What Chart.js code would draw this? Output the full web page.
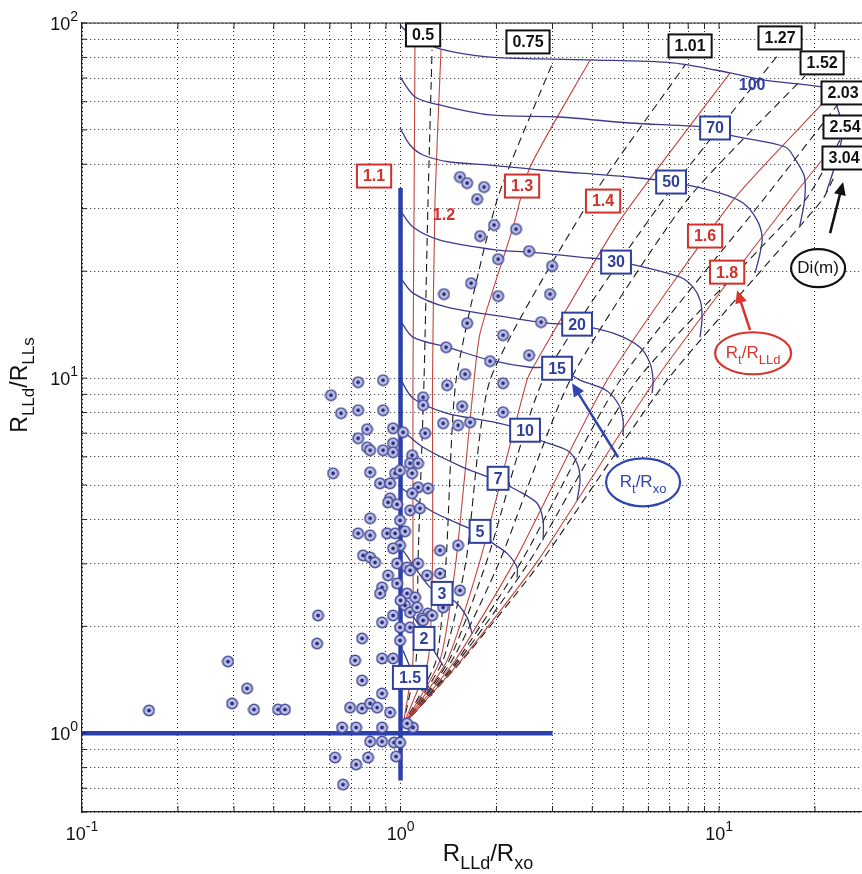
<!DOCTYPE html>
<html>
<head>
<meta charset="utf-8">
<script src="https://cdn.jsdelivr.net/npm/chart.js@4.4.0/dist/chart.umd.min.js"></script>
<style>
  html, body { margin: 0; padding: 0; background: #fff; overflow: hidden; }
  #wrap { width: 862px; height: 874px; }
</style>
</head>
<body>
<div id="wrap"><canvas id="tornado" width="862" height="874"></canvas></div>
<script>
// log-log tornado chart, RLLd/Rxo vs RLLd/RLLs

const xTicks = [0.1, 0.2, 0.3, 0.4, 0.5, 0.6, 0.7, 0.8, 0.9, 1, 2, 3, 4, 5, 6, 7, 8, 9, 10, 20]
const yTicks = [0.6, 0.7, 0.8, 0.9, 1, 2, 3, 4, 5, 6, 7, 8, 9, 10, 20, 30, 40, 50, 60, 70, 80, 90, 100]
const xDecades = [0.1, 1, 10]
const yDecades = [1, 10, 100]

// measured samples [RLLd/Rxo, RLLd/RLLs]
const samples = [
  [1.537, 36.83], [1.618, 35.43], [1.829, 34.52], [1.739, 31.93], [1.966, 26.98], [2.305, 26.29],
  [1.777, 25.12], [2.532, 22.79], [2.024, 21.63], [2.99, 20.68], [1.665, 18.51], [1.369, 17.24],
  [2.024, 17.02], [2.947, 17.24], [1.618, 14.28], [2.098, 13.21], [2.761, 14.38], [1.39, 12.22],
  [1.91, 11.16], [2.532, 11.6], [1.594, 10.26], [2.098, 9.674], [1.4, 9.55], [1.177, 8.834],
  [1.177, 8.387], [1.56, 8.333], [1.36, 7.46], [1.515, 7.364], [1.653, 7.509], [2.098, 8.015],
  [1.194, 6.994],
  [0.8813, 9.865], [0.7357, 9.736], [0.6049, 8.949], [0.6503, 7.963], [0.7357, 8.119], [0.8813, 8.119],
  [0.7849, 7.178], [0.9473, 7.222], [0.7357, 6.771], [0.7849, 6.387], [0.8023, 6.264], [0.8813, 6.264],
  [0.9473, 6.555], [0.9473, 6.183], [1.087, 6.064], [1.018, 7.039],
  [1.071, 5.756], [1.135, 5.756], [1.087, 5.395], [0.6138, 5.395], [0.8023, 5.43], [0.961, 5.395],
  [0.8624, 5.055], [0.9269, 5.055], [1.135, 4.926], [1.22, 4.894], [0.9269, 4.587], [0.9137, 4.469],
  [0.975, 4.411], [1.087, 4.738], [1.071, 4.243], [1.151, 4.298], [0.8023, 4.029], [0.7357, 3.655],
  [0.8023, 3.607], [0.907, 3.655], [0.961, 3.655], [1.033, 3.702], [1.33, 3.273], [1.515, 3.381],
  [0.7627, 3.168], [0.8023, 3.127], [0.8318, 3.027], [0.975, 3.008], [1.048, 2.931], [1.135, 3.008],
  [1.071, 2.874], [1.211, 2.782], [1.33, 2.818], [0.9137, 2.782], [0.8749, 2.574], [0.8624, 2.476],
  [0.975, 2.642], [1.048, 2.476], [1.111, 2.413], [1.033, 2.291], [1.071, 2.189], [0.9473, 2.146],
  [1.22, 2.175], [1.168, 2.105], [1.127, 2.261], [1.256, 2.146], [1.36, 2.261], [1.537, 2.524],
  [0.5508, 2.146], [0.8749, 2.051], [0.9964, 1.986], [1.071, 1.986], [1.177, 2.078], [1.168, 1.789],
  [0.5468, 1.789], [0.7571, 1.849], [0.9964, 1.825], [0.7198, 1.603], [0.8749, 1.624], [0.9473, 1.624],
  [0.7571, 1.408], [0.8749, 1.294], [0.6942, 1.181], [0.7571, 1.174], [0.8023, 1.213], [0.844, 1.181],
  [0.9269, 1.144], [0.655, 1.038], [0.7251, 1.038], [0.8749, 1.038], [1.094, 1.038], [1.048, 1.065],
  [0.8023, 0.9475], [0.8749, 0.9475], [0.9541, 0.9414], [0.9964, 0.9414], [0.9681, 0.8597],
  [0.6227, 0.8541], [0.7251, 0.8162], [0.7907, 0.8541], [0.6598, 0.7167],
  [0.9964, 5.5], [0.9964, 3.976], [0.9964, 3.381], [1.0, 2.366], [0.9473, 3.316],
  [0.1623, 1.159], [0.2873, 1.592], [0.3297, 1.337], [0.2958, 1.213], [0.3467, 1.166],
  [0.4125, 1.166], [0.4338, 1.166]
]

// invasion diameter Di (m), dashed
const diValues = ['0.5', '0.75', '1.01', '1.27', '1.52', '2.03', '2.54', '3.04']
const diCurves = [
  [[1.018, 1.051], [1.119, 1.603], [1.135, 3.067], [1.185, 9.865], [1.22, 31.72], [1.256, 84.0]],
  [[1.018, 1.051], [1.293, 1.603], [1.39, 3.067], [1.494, 9.865], [2.009, 31.72], [3.011, 77.7]],
  [[1.018, 1.051], [1.36, 1.603], [1.606, 3.067], [1.91, 9.865], [3.936, 31.72], [7.823, 76.21]],
  [[1.018, 1.051], [1.42, 1.603], [1.869, 3.067], [2.802, 9.865], [6.671, 31.72], [15.32, 81.3]],
  [[1.018, 1.051], [1.451, 1.603], [2.053, 3.067], [3.406, 9.865], [7.934, 31.72], [18.62, 70.95]],
  [[1.018, 1.051], [1.505, 1.603], [2.407, 3.067], [4.889, 9.865], [13.74, 31.72], [23.64, 59.15]],
  [[1.018, 1.051], [1.527, 1.603], [2.55, 3.067], [5.528, 9.865], [18.62, 31.72], [23.99, 46.83]],
  [[1.018, 1.051], [1.56, 1.603], [2.782, 3.067], [6.866, 9.865], [21.06, 31.72], [23.13, 37.32]]
]
const diLabelAt = [[1.177, 92.57], [2.513, 88.45], [8.11, 86.18], [15.54, 90.78], [21.06, 77.21], [24.51, 63.53], [24.86, 50.95], [24.68, 41.67]]

// Rt/RLLd, red
const rlldValues = ['1.1', '1.2', '1.3', '1.4', '1.6', '1.8']
const rlldCurves = [
  [[1.018, 1.051], [1.094, 1.603], [1.094, 3.067], [1.094, 9.865], [1.103, 31.72], [1.111, 100]],
  [[1.018, 1.051], [1.22, 1.603], [1.26, 3.067], [1.26, 9.865], [1.283, 31.72], [1.34, 84.0]],
  [[1.018, 1.051], [1.33, 1.603], [1.494, 3.067], [1.677, 8.664], [1.777, 13.38], [2.256, 26.63], [2.55, 39.29], [3.936, 78.7]],
  [[1.018, 1.051], [1.4, 1.603], [1.777, 3.067], [2.495, 9.865], [2.683, 11.23], [4.889, 27.86], [10.83, 72.35]],
  [[1.018, 1.051], [1.483, 1.603], [2.288, 3.067], [4.451, 9.865], [11.07, 31.72], [21.21, 59.54]],
  [[1.018, 1.051], [1.549, 1.603], [2.703, 3.067], [6.297, 9.865], [16.71, 31.72], [22.31, 43.89]]
]
const rlldLabelAt = [[0.8257, 37.07], [1.369, 28.78], [2.407, 34.74], [4.323, 31.52], [9.037, 25.12], [10.6, 19.88]]

// Rt/Rxo, blue
const rxoValues = ['1.5', '2', '3', '5', '7', '10', '15', '20', '30', '50', '70', '100']
const rxoCurves = [
  [[1.018, 1.711], [1.087, 1.502], [1.194, 1.363], [1.256, 1.277]],
  [[1.018, 2.366], [1.111, 2.093], [1.185, 1.923], [1.283, 1.689], [1.36, 1.551]],
  [[1.018, 3.273], [1.238, 2.574], [1.36, 2.475], [1.505, 2.32], [1.618, 2.119], [1.677, 1.91]],
  [[1.011, 4.894], [1.238, 4.244], [1.618, 3.8], [1.764, 3.679], [1.952, 3.425], [2.16, 3.21], [2.322, 2.931], [2.322, 2.747]],
  [[1.011, 7.133], [1.177, 6.386], [1.571, 5.609], [2.009, 5.155], [2.322, 4.832], [2.683, 4.441], [2.802, 3.976], [2.802, 3.492]],
  [[0.996, 9.994], [1.094, 8.778], [1.4, 7.96], [1.91, 7.558], [2.442, 7.133], [2.742, 6.683], [3.333, 6.262], [3.583, 5.755], [3.66, 5.155], [3.583, 4.528]],
  [[0.996, 14.56], [1.094, 13.04], [1.4, 12.22], [1.91, 11.23], [2.55, 10.73], [3.156, 10.66], [3.66, 9.865], [4.418, 9.245], [4.853, 8.387], [4.996, 7.607], [4.996, 6.903]],
  [[0.996, 19.25], [1.094, 17.35], [1.4, 15.84], [2.256, 14.75], [2.884, 14.28], [3.583, 14.1], [4.647, 13.38], [5.645, 12.22], [6.068, 11.02], [6.207, 9.865], [6.163, 9.068]],
  [[0.996, 29.73], [1.094, 26.63], [1.33, 24.47], [2.009, 22.94], [2.55, 22.64], [3.66, 21.92], [4.749, 21.36], [7.544, 19.25], [8.287, 18.04], [8.716, 16.58], [8.845, 14.85], [8.716, 13.04]],
  [[0.996, 50.61], [1.071, 45.33], [1.177, 42.49], [1.43, 40.6], [1.91, 39.81], [2.742, 38.55], [5.216, 36.83], [7.145, 35.66], [10.07, 33.2], [11.9, 31.12], [13.16, 27.86], [13.65, 24.95], [13.45, 22.49], [12.97, 19.75]],
  [[0.996, 70.47], [1.111, 61.91], [1.33, 58.77], [1.91, 55.08], [3.156, 54.37], [5.216, 52.29], [9.714, 50.62], [10.83, 48.36], [16.14, 44.75], [17.39, 41.14], [18.55, 36.83], [18.55, 31.72], [17.89, 26.63]],
  [[0.996, 98.77], [1.056, 93.78], [1.111, 90.78], [1.33, 84.53], [1.869, 80.26], [2.742, 79.23], [3.851, 78.7], [7.145, 77.21], [10.83, 72.35], [13.74, 69.13], [20.98, 66.06], [22.56, 63.94], [23.64, 56.9], [24.51, 49.95], [23.13, 39.82], [21.68, 33.2]]
]
const rxoLabelAt = [[1.071, 1.436], [1.185, 1.849], [1.35, 2.476], [1.777, 3.702], [2.024, 5.222], [2.46, 7.133], [3.1, 10.66], [3.583, 14.19], [4.749, 21.22], [7.068, 35.66], [9.714, 50.62], [12.7, 66.9]]
const plainLabels = ['1.2', '100']

// cutoff lines
const cutoffV = [[1, 0.736], [1, 34.3]]
const cutoffH = [[0.1, 1], [3, 1]]

// legend bubbles: centre, arrow tail, arrow head
const diBubble = [[20.46, 20.4], [22.31, 25.61], [24.51, 35.66]]
const rlldBubble = [[12.79, 11.75], [12.51, 13.65], [11.39, 17.69]]
const rxoBubble = [[5.773, 5.088], [4.819, 5.985], [3.455, 9.674]]

const FONT = '"Liberation Sans", Arial, Helvetica, sans-serif'
const BLUE = '#2e3f9e'
const RED = '#d2302a'

const toXY = pts => pts.map(p => ({ x: p[0], y: p[1] }))

function makeDot() {
  const c = document.createElement('canvas')
  c.width = 13
  c.height = 13
  const g = c.getContext('2d')
  g.beginPath()
  g.arc(6.5, 6.5, 5.2, 0, Math.PI * 2)
  g.fillStyle = '#c4c7e5'
  g.fill()
  g.lineWidth = 1.6
  g.strokeStyle = '#474c9c'
  g.stroke()
  g.beginPath()
  g.arc(6.5, 6.5, 1.9, 0, Math.PI * 2)
  g.fillStyle = '#262b85'
  g.fill()
  return c
}

function line(pts, color, width, dash, tension) {
  return {
    data: toXY(pts),
    showLine: true,
    borderColor: color,
    borderWidth: width,
    borderDash: dash || [],
    pointRadius: 0,
    tension: tension || 0,
    fill: false
  }
}

const datasets = []
datasets.push({ data: toXY(samples), pointStyle: makeDot(), pointRadius: 6, showLine: false })
datasets.push(line(cutoffV, '#2b40ad', 4.5))
datasets.push(line(cutoffH, '#2b40ad', 4.5))
rxoCurves.forEach(c => datasets.push(line(c, '#3b3a8c', 1.3, null, 0.3)))
rlldCurves.forEach(c => datasets.push(line(c, '#c0463e', 1.1, null, 0.2)))
diCurves.forEach(c => datasets.push(line(c, '#1a1a1a', 1.1, [8, 5], 0.2)))

function richText(ctx, parts, x, y, size, color, align) {
  const small = Math.round(size * 0.75)
  let w = 0
  parts.forEach(p => {
    ctx.font = (p[1] ? small : size) + 'px ' + FONT
    w += ctx.measureText(p[0]).width
  })
  let cx = align === 'center' ? x - w / 2 : align === 'right' ? x - w : x
  ctx.fillStyle = color
  ctx.textAlign = 'left'
  ctx.textBaseline = 'alphabetic'
  parts.forEach(p => {
    ctx.font = (p[1] ? small : size) + 'px ' + FONT
    let dy = 0
    if (p[1] === 'sub') dy = size * 0.32
    if (p[1] === 'sup') dy = -size * 0.5
    ctx.fillText(p[0], cx, y + dy)
    cx += ctx.measureText(p[0]).width
  })
}

function boxLabel(ctx, text, px, py, color, boxed) {
  ctx.font = 'bold 16px ' + FONT
  ctx.textAlign = 'center'
  ctx.textBaseline = 'middle'
  if (boxed) {
    const w = ctx.measureText(text).width + 12
    const h = 23
    ctx.fillStyle = '#fff'
    ctx.fillRect(px - w / 2, py - h / 2, w, h)
    ctx.lineWidth = 2
    ctx.strokeStyle = color
    ctx.strokeRect(px - w / 2, py - h / 2, w, h)
  }
  ctx.fillStyle = color
  ctx.fillText(text, px, py + 1)
}

function arrow(ctx, a, b, color) {
  const ang = Math.atan2(b[1] - a[1], b[0] - a[0])
  const len = 13
  ctx.strokeStyle = color
  ctx.fillStyle = color
  ctx.lineWidth = 2.5
  ctx.beginPath()
  ctx.moveTo(a[0], a[1])
  ctx.lineTo(b[0] - Math.cos(ang) * len * 0.8, b[1] - Math.sin(ang) * len * 0.8)
  ctx.stroke()
  ctx.beginPath()
  ctx.moveTo(b[0], b[1])
  ctx.lineTo(b[0] - Math.cos(ang) * len + Math.sin(ang) * 6, b[1] - Math.sin(ang) * len - Math.cos(ang) * 6)
  ctx.lineTo(b[0] - Math.cos(ang) * len - Math.sin(ang) * 6, b[1] - Math.sin(ang) * len + Math.cos(ang) * 6)
  ctx.closePath()
  ctx.fill()
}

function bubble(ctx, c, rx, ry, color, parts) {
  ctx.beginPath()
  ctx.ellipse(c[0], c[1], rx, ry, 0, 0, Math.PI * 2)
  ctx.fillStyle = '#fff'
  ctx.fill()
  ctx.lineWidth = 2.2
  ctx.strokeStyle = color
  ctx.stroke()
  richText(ctx, parts, c[0], c[1] + 5, 17, color, 'center')
}

const tornadoDecor = {
  id: 'tornadoDecor',
  afterDatasetsDraw(chart) {
    const { ctx, scales: { x, y } } = chart
    const P = p => [x.getPixelForValue(p[0]), y.getPixelForValue(p[1])]
    ctx.save()

    arrow(ctx, P(diBubble[1]), P(diBubble[2]), '#111')
    arrow(ctx, P(rlldBubble[1]), P(rlldBubble[2]), '#d8352c')
    arrow(ctx, P(rxoBubble[1]), P(rxoBubble[2]), '#2f44b0')

    bubble(ctx, P(diBubble[0]), 27, 19, '#111', [['Di(m)']])
    bubble(ctx, P(rlldBubble[0]), 38, 21, '#d8352c', [['R'], ['t', 'sub'], ['/R'], ['LLd', 'sub']])
    bubble(ctx, P(rxoBubble[0]), 37, 24, '#2f44b0', [['R'], ['t', 'sub'], ['/R'], ['xo', 'sub']])

    diValues.forEach((v, i) => {
      const p = P(diLabelAt[i])
      boxLabel(ctx, v, p[0], p[1], '#111', true)
    })
    rlldValues.forEach((v, i) => {
      const p = P(rlldLabelAt[i])
      boxLabel(ctx, v, p[0], p[1], RED, !plainLabels.includes(v))
    })
    rxoValues.forEach((v, i) => {
      const p = P(rxoLabelAt[i])
      boxLabel(ctx, v, p[0], p[1], BLUE, !plainLabels.includes(v))
    })
    ctx.restore()
  },
  afterDraw(chart) {
    const { ctx, chartArea: area, scales: { x, y } } = chart
    ctx.save()
    // top frame line and inward ticks
    ctx.strokeStyle = '#222'
    ctx.lineWidth = 1.2
    ctx.beginPath()
    ctx.moveTo(area.left, area.top)
    ctx.lineTo(area.right, area.top)
    ctx.stroke()
    ctx.lineWidth = 1
    xTicks.forEach(v => {
      const px = x.getPixelForValue(v)
      ctx.beginPath()
      ctx.moveTo(px, area.bottom)
      ctx.lineTo(px, area.bottom - 6)
      ctx.moveTo(px, area.top)
      ctx.lineTo(px, area.top + 6)
      ctx.stroke()
    })
    yTicks.forEach(v => {
      const py = y.getPixelForValue(v)
      ctx.beginPath()
      ctx.moveTo(area.left, py)
      ctx.lineTo(area.left + 5, py)
      ctx.stroke()
    })

    // decade tick labels
    xDecades.forEach(v => {
      const px = x.getPixelForValue(v)
      const e = String(Math.round(Math.log10(v)))
      richText(ctx, [['10'], [e, 'sup']], px, 840, 18, '#111', 'center')
    })
    yDecades.forEach(v => {
      const py = y.getPixelForValue(v)
      const e = String(Math.round(Math.log10(v)))
      richText(ctx, [['10'], [e, 'sup']], 78, py + 7, 18, '#111', 'right')
    })

    // axis titles
    richText(ctx, [['R'], ['LLd', 'sub'], ['/R'], ['xo', 'sub']], 488, 861, 24, '#111', 'center')
    ctx.translate(27, 385)
    ctx.rotate(-Math.PI / 2)
    richText(ctx, [['R'], ['LLd', 'sub'], ['/R'], ['LLs', 'sub']], 0, 0, 23, '#111', 'center')
    ctx.restore()
  }
}

const axisStyle = {
  type: 'logarithmic',
  ticks: { display: false },
  grid: { color: 'rgba(0,0,0,0.85)', lineWidth: 1, drawTicks: false },
  border: { display: true, color: '#222', width: 1.2, dash: [1, 3] }
}

new Chart(document.getElementById('tornado'), {
  type: 'scatter',
  data: { datasets: datasets },
  options: {
    responsive: false,
    animation: false,
    events: [],
    layout: { autoPadding: false, padding: { left: 82, top: 23, right: 0, bottom: 62 } },
    plugins: { legend: { display: false }, tooltip: { enabled: false } },
    scales: {
      x: Object.assign({}, axisStyle, {
        min: 0.1, max: 28.1,
        afterBuildTicks: s => { s.ticks = xTicks.map(v => ({ value: v })) }
      }),
      y: Object.assign({}, axisStyle, {
        min: 0.6, max: 100,
        afterBuildTicks: s => { s.ticks = yTicks.map(v => ({ value: v })) }
      })
    }
  },
  plugins: [tornadoDecor]
})
</script>
</body>
</html>
